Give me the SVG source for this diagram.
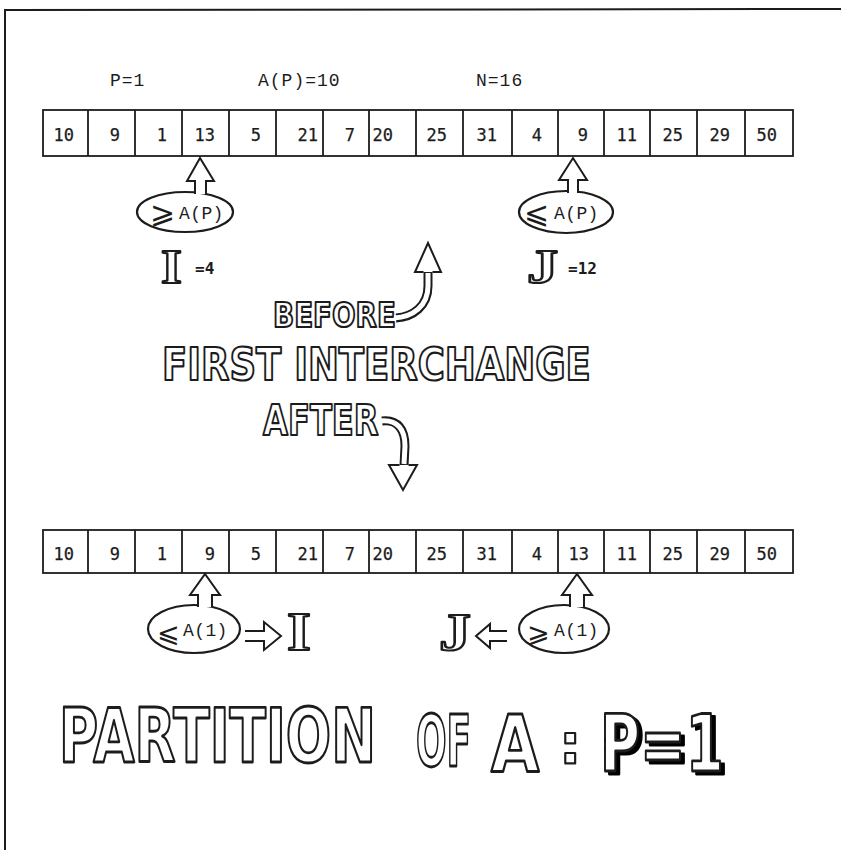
<svg xmlns="http://www.w3.org/2000/svg" width="841" height="850" viewBox="0 0 841 850">
<defs>
<style>
.cell{fill:none;stroke:#1c1c1c;stroke-width:1.8}
.num{font-family:"DejaVu Sans Mono",monospace;font-size:17px;fill:#1c1c1c;stroke:#1c1c1c;stroke-width:0.25;text-anchor:end}
.lbl{font-family:"Liberation Mono",monospace;font-size:18px;fill:#1c1c1c;letter-spacing:1px}
.bub{fill:#fff;stroke:#1c1c1c;stroke-width:2.2}
.btx{font-family:"Liberation Mono",monospace;font-size:18px;fill:#1c1c1c;letter-spacing:0.4px}
.rel{font-family:"DejaVu Sans",sans-serif;font-size:30px;fill:#1c1c1c}
.rel2{font-family:"DejaVu Sans",sans-serif;font-size:27px;fill:#1c1c1c}
.eq{font-family:"DejaVu Sans Mono",monospace;font-size:16px;font-weight:bold;fill:#1c1c1c}
.out{font-family:"DejaVu Sans",sans-serif;font-weight:bold;fill:#fff;stroke:#1c1c1c;stroke-width:2.2;stroke-linejoin:round}
.big{stroke-width:2.8}
.glyph{font-family:"Liberation Serif",serif;font-weight:bold;fill:#fff;stroke:#1c1c1c;stroke-width:2.2;stroke-linejoin:round}
.harrow{fill:#fff;stroke:#1c1c1c;stroke-width:2;stroke-linejoin:miter}
.shaft-o{fill:none;stroke:#1c1c1c;stroke-width:9}
.shaft-i{fill:none;stroke:#fff;stroke-width:5}
</style>
<filter id="shade" x="-10%" y="-10%" width="130%" height="130%">
<feOffset in="SourceAlpha" dx="4" dy="3" result="o"/>
<feMerge><feMergeNode in="o"/><feMergeNode in="SourceGraphic"/></feMerge>
</filter>
</defs>
<rect width="841" height="850" fill="#fff"/>
<g id="frame"><path d="M5,850 L5,10 L841,9" fill="none" stroke="#1c1c1c" stroke-width="2"/></g>

<g id="params">
<text class="lbl" x="110" y="86">P=1</text>
<text class="lbl" x="258" y="86">A(P)=10</text>
<text class="lbl" x="476" y="86">N=16</text>
</g>

<g id="array-before">
<rect class="cell" x="43" y="110" width="750" height="46"/>
<path class="cell" d="M88,110V156M135,110V156M182,110V156M229,110V156M276,110V156M323,110V156M369,110V156M416,110V156M463,110V156M512,110V156M558,110V156M604,110V156M650,110V156M697,110V156M745,110V156"/>
<text class="num" x="74" y="141">10</text>
<text class="num" x="120" y="141">9</text>
<text class="num" x="167" y="141">1</text>
<text class="num" x="215" y="141">13</text>
<text class="num" x="261" y="141">5</text>
<text class="num" x="318" y="141">21</text>
<text class="num" x="355" y="141">7</text>
<text class="num" x="393" y="141">20</text>
<text class="num" x="447" y="141">25</text>
<text class="num" x="497" y="141">31</text>
<text class="num" x="542" y="141">4</text>
<text class="num" x="588" y="141">9</text>
<text class="num" x="637" y="141">11</text>
<text class="num" x="683" y="141">25</text>
<text class="num" x="730" y="141">29</text>
<text class="num" x="777" y="141">50</text>
</g>

<g id="bubble-ge-ap">
<ellipse class="bub" cx="185" cy="212" rx="48" ry="20"/>
<text class="rel" x="150" y="223">⩾</text>
<text class="btx" x="179" y="219">A(P)</text>
</g>
<g id="bubble-le-ap">
<ellipse class="bub" cx="566" cy="212" rx="47" ry="21"/>
<text class="rel" x="524" y="223">⩽</text>
<text class="btx" x="554" y="219">A(P)</text>
</g>

<g id="label-i4">
<text class="glyph" transform="translate(161,283) scale(1.12,1)" font-size="48">I</text>
<text class="eq" x="195" y="274">=4</text>
</g>
<g id="label-j12">
<text class="glyph" transform="translate(527,283) scale(1.3,1)" font-size="48">J</text>
<text class="eq" x="568" y="274" font-size="17">=12</text>
</g>

<g id="title-before"><text class="out" transform="translate(273,327) scale(0.816,1)" font-size="34">BEFORE</text></g>
<g id="title-interchange"><text class="out" transform="translate(162,380) scale(0.84,1)" font-size="44">FIRST INTERCHANGE</text></g>
<g id="title-after"><text class="out" transform="translate(263,435) scale(0.767,1)" font-size="42">AFTER</text></g>

<g id="array-after">
<rect class="cell" x="43" y="530" width="750" height="43"/>
<path class="cell" d="M88,530V573M135,530V573M182,530V573M229,530V573M276,530V573M323,530V573M369,530V573M416,530V573M463,530V573M512,530V573M558,530V573M604,530V573M650,530V573M697,530V573M745,530V573"/>
<text class="num" x="74" y="560">10</text>
<text class="num" x="120" y="560">9</text>
<text class="num" x="167" y="560">1</text>
<text class="num" x="215" y="560">9</text>
<text class="num" x="261" y="560">5</text>
<text class="num" x="318" y="560">21</text>
<text class="num" x="355" y="560">7</text>
<text class="num" x="393" y="560">20</text>
<text class="num" x="447" y="560">25</text>
<text class="num" x="497" y="560">31</text>
<text class="num" x="542" y="560">4</text>
<text class="num" x="589" y="560">13</text>
<text class="num" x="637" y="560">11</text>
<text class="num" x="683" y="560">25</text>
<text class="num" x="730" y="560">29</text>
<text class="num" x="777" y="560">50</text>
</g>

<g id="bubble-le-a1">
<ellipse class="bub" cx="194" cy="629" rx="46" ry="24"/>
<text class="rel2" x="157" y="642">⩽</text>
<text class="btx" x="183" y="636">A(1)</text>
</g>
<g id="label-i">
<text class="glyph" transform="translate(287,650) scale(1.12,1)" font-size="55">I</text>
</g>
<g id="label-j">
<text class="glyph" transform="translate(439,650) scale(1.23,1)" font-size="52">J</text>
</g>
<g id="bubble-ge-a1">
<ellipse class="bub" cx="564" cy="629" rx="45" ry="24"/>
<text class="rel2" x="527" y="642">⩾</text>
<text class="btx" x="554" y="636">A(1)</text>
</g>

<g id="caption">
<text class="out big" transform="translate(59,762) scale(0.712,1)" font-size="75">PARTITION</text>
<text class="out big" transform="translate(416,766) scale(0.5,1)" font-size="72">OF</text>
<text class="out big" transform="translate(491,771) scale(0.8,1)" font-size="78">A</text>
<text class="out" x="559" y="763" font-size="56">:</text>
<g filter="url(#shade)"><text class="out big" transform="translate(600,771) scale(0.7,1)" font-size="78">P=1</text></g>
</g>

<g id="connectors">
<path class="harrow" d="M195,194 L195,181 L187,181 L200,158 L214,181 L206,181 L206,194"/>
<path class="harrow" d="M568,193 L568,180 L559,180 L573,158 L587,180 L578,180 L578,193"/>
<path class="shaft-o" d="M396,318 C413,317 428,306 428,286 L428,271"/>
<path class="shaft-i" d="M394,318 C413,317 428,306 428,286 L428,273"/>
<path class="harrow" d="M423.5,272 L415,272 L428,243 L441,272 L432.5,272"/>
<path class="shaft-o" d="M382,421 C398,419 405,430 405,446 L404,466"/>
<path class="shaft-i" d="M380,421 C398,419 405,430 405,446 L404,464"/>
<path class="harrow" d="M399.5,465 L389,465 L403,490 L417,465 L408.5,465"/>
<path class="harrow" d="M198,607 L198,595 L190,595 L205,574 L220,595 L212,595 L212,607"/>
<path class="harrow" d="M570,607 L570,595 L562,595 L577,574 L592,595 L584,595 L584,607"/>
<path class="harrow" d="M245,631 L264,631 L264,622 L281,636 L264,650 L264,641 L245,641"/>
<path class="harrow" d="M507,631 L490,631 L490,624 L476,636 L490,648 L490,641 L507,641"/>
</g>
</svg>
